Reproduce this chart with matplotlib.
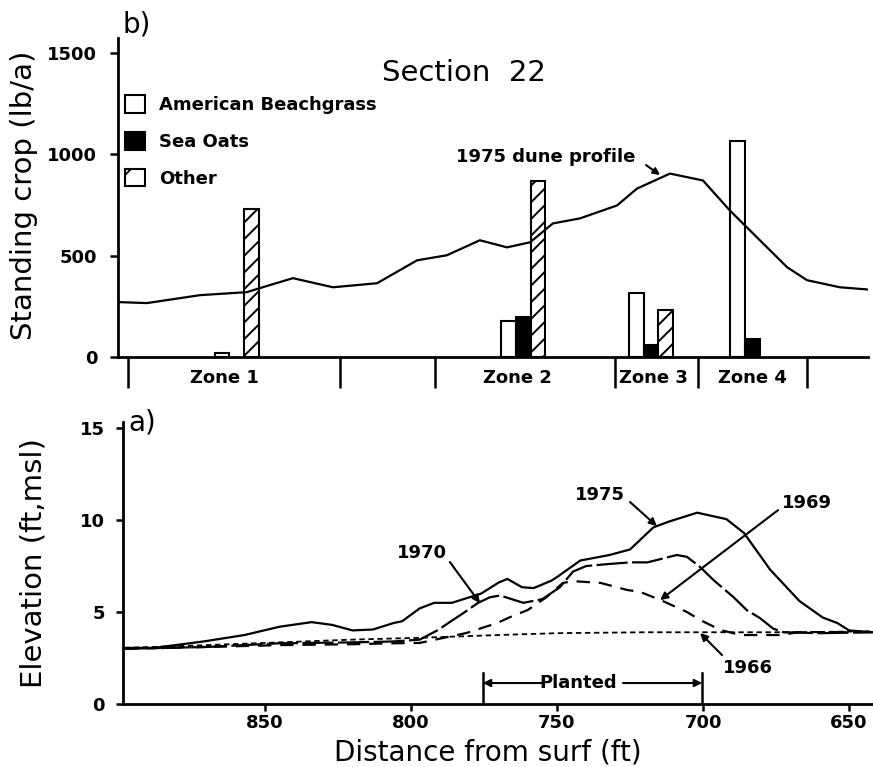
import matplotlib
matplotlib.use("Agg")
import matplotlib.pyplot as plt
import matplotlib.transforms as mtransforms
from matplotlib.patches import Patch
import numpy as np

# ---- data ----
# b) standing crop by zone (lb/a)
zone_names = ["Zone 1", "Zone 2", "Zone 3", "Zone 4"]
zone_centers = [859.6, 761.6, 717.8, 683.2]          # ft from surf
zone_label_x = [864.0, 763.7, 717.1, 682.9]
zone_bounds = [896.9, 824.3, 791.8, 730.1, 701.7, 664.4]
beachgrass = [20, 180, 315, 1065]
sea_oats = [0, 195, 60, 90]
other = [730, 870, 230, 0]

# 1975 dune profile drawn over panel b (scaled)
prof_dist = [900.3, 890.4, 872.3, 856.2, 851.7, 840.4, 826.7, 811.6, 797.9, 787.7,
             776.4, 767.1, 759.2, 751.4, 742.1, 729.4, 722.6, 711.3, 700.0, 690.8,
             682.9, 671.2, 664.4, 653.1, 643.5]
prof_val = [271, 266, 305, 320, 340, 389, 344, 364, 477, 502,
            576, 541, 566, 659, 684, 748, 831, 905, 871, 723,
            610, 443, 379, 344, 333]

# a) elevation profiles (ft, msl)
d1975 = [898, 888, 871, 857, 845, 834, 827, 820, 813, 806, 803, 797, 792, 786, 776,
         770, 767, 762, 758, 752, 750, 742, 732, 725, 717, 712, 702, 692, 686, 677,
         667, 659, 654, 650, 642]
e1975 = [3.05, 3.05, 3.4, 3.75, 4.2, 4.45, 4.3, 4.0, 4.05, 4.4, 4.5, 5.2, 5.5, 5.5, 6.0,
         6.6, 6.8, 6.35, 6.3, 6.7, 6.9, 7.8, 8.1, 8.4, 9.6, 9.9, 10.4, 10.05, 9.3, 7.3,
         5.6, 4.7, 4.4, 4.0, 3.9]
d1970 = [898, 870, 845, 820, 806, 797, 791, 782, 777, 773, 769.5, 761.5, 755, 749, 744.5,
         740, 733, 725, 719, 709, 705.5, 701, 696.5, 689.5, 685, 680.5, 676, 672.5, 660, 642]
e1970 = [3.0, 3.1, 3.3, 3.35, 3.4, 3.5, 4.0, 4.95, 5.5, 5.8, 5.9, 5.5, 5.7, 6.35, 7.2,
         7.5, 7.6, 7.7, 7.7, 8.1, 8.0, 7.45, 6.75, 5.8, 5.1, 4.67, 4.1, 3.9, 3.85, 3.9]
d1969 = [898, 870, 845, 820, 806, 797, 781, 770.5, 766, 760, 753.5, 748, 744.5, 735,
         726, 721.5, 714.5, 705.5, 701, 694, 687, 673.5, 667, 642]
e1969 = [3.0, 3.1, 3.2, 3.25, 3.3, 3.32, 3.86, 4.4, 4.73, 5.11, 5.82, 6.58, 6.68, 6.58,
         6.2, 6.09, 5.65, 5.0, 4.57, 4.02, 3.75, 3.75, 3.91, 3.91]
d1966 = [898, 870, 845, 820, 797, 770, 750, 720, 700, 670, 642]
e1966 = [3.05, 3.2, 3.35, 3.5, 3.6, 3.75, 3.85, 3.9, 3.9, 3.9, 3.95]

planted_start, planted_end = 775.4, 700.3

bold = dict(fontweight="bold", fontsize=13)
plt.rcParams["hatch.linewidth"] = 1.4

fig = plt.figure(figsize=(8.73, 7.67), dpi=100)
ax_b = fig.add_axes([118/873, 1-357/767, 750/873, 319/767])
ax_a = fig.add_axes([123/873, 1-704/767, 750/873, 282/767])

# ---- panel b ----
# x axis runs right-to-left, so the first bar of a group sits at the larger distance
w = 5.1
for vals, off, fc, hatch in [(beachgrass, w, "white", None),
                             (sea_oats, 0, "black", None),
                             (other, -w, "white", "//")]:
    for c, v in zip(zone_centers, vals):
        if v > 0:
            ax_b.bar(c + off, v, width=w, facecolor=fc, edgecolor="k",
                     linewidth=1.5, hatch=hatch, zorder=3)
ax_b.plot(prof_dist, prof_val, color="k", lw=1.6, zorder=4)

ax_b.set_xlim(900.3, 643.5)
ax_b.set_ylim(0, 1574)
ax_b.set_yticks([0, 500, 1000, 1500])
ax_b.set_xticks(zone_bounds)
ax_b.set_xticklabels([])
ax_b.tick_params(axis="x", direction="out", length=22, width=1.8)
ax_b.tick_params(axis="y", direction="out", length=6, width=1.8, pad=9, labelsize=13)
for s in ["top", "right"]:
    ax_b.spines[s].set_visible(False)
for s in ["left", "bottom"]:
    ax_b.spines[s].set_linewidth(2)
trans_b = mtransforms.blended_transform_factory(ax_b.transData, ax_b.transAxes)
for x, name in zip(zone_label_x, zone_names):
    ax_b.text(x, -0.066, name, transform=trans_b, ha="center", va="center", **bold)

ax_b.set_ylabel("Standing crop (lb/a)", fontsize=21)
ax_b.yaxis.set_label_coords(-0.107, 0.508)
ax_b.text(781.8, 1401, "Section  22", ha="center", va="center", fontsize=21)
ax_b.text(753.8, 987, "1975 dune profile", ha="center", va="center", **bold)
ax_b.annotate("", xy=(714.7, 898), xytext=(719.5, 947),
              arrowprops=dict(arrowstyle="-|>", color="k", lw=1.5,
                              mutation_scale=10, shrinkA=0, shrinkB=0))

handles = [Patch(facecolor="white", edgecolor="k", lw=1.5, label="American Beachgrass"),
           Patch(facecolor="black", edgecolor="k", lw=1.5, label="Sea Oats"),
           Patch(facecolor="white", edgecolor="k", lw=1.5, hatch="/", label="Other")]
leg = ax_b.legend(handles=handles, loc="upper left", bbox_to_anchor=(0.009, 0.82),
                  frameon=False, borderpad=0, borderaxespad=0, handlelength=1.1,
                  handleheight=1.1, handletextpad=0.8, labelspacing=1.0,
                  prop=dict(weight="bold", size=13))
fig.text(137/873, 1-25/767, "b)", ha="center", va="center", fontsize=20)

# ---- panel a ----
ax_a.plot(d1975, e1975, color="k", lw=1.6)
ax_a.plot(d1970, e1970, color="k", lw=1.6, dashes=(14, 2))
ax_a.plot(d1969, e1969, color="k", lw=1.6, dashes=(6, 4))
ax_a.plot(d1966, e1966, color="k", lw=1.3, dashes=(3, 2))

ax_a.set_xlim(898.6, 641.8)
ax_a.set_ylim(0, 15.33)
ax_a.set_xticks([850, 800, 750, 700, 650])
ax_a.set_yticks([0, 5, 10, 15])
ax_a.tick_params(direction="out", length=5, width=1.8, labelsize=13)
ax_a.tick_params(axis="y", pad=8)
ax_a.tick_params(axis="x", pad=2)
for s in ["top", "right"]:
    ax_a.spines[s].set_visible(False)
for s in ["left", "bottom"]:
    ax_a.spines[s].set_linewidth(2)
ax_a.set_ylabel("Elevation (ft,msl)", fontsize=21)
ax_a.yaxis.set_label_coords(-0.101, 0.5)
ax_a.set_xlabel("Distance from surf (ft)", fontsize=20)
ax_a.xaxis.set_label_coords(0.486, -0.122)
fig.text(142/873, 1-422/767, "a)", ha="center", va="center", fontsize=20)

arrow = dict(arrowstyle="-|>", color="k", lw=1.5, mutation_scale=11, shrinkA=0, shrinkB=0)
labels_a = [("1975", (735.3, 11.36), (725.0, 10.98), (715.8, 9.67)),
            ("1970", (796.2, 8.2), (786.7, 7.72), (776.4, 5.49)),
            ("1969", (664.4, 10.92), (674.3, 10.54), (714.7, 5.65)),
            ("1966", (684.6, 1.96), (693.5, 2.66), (701.0, 3.86))]
for txt, tpos, tail, head in labels_a:
    ax_a.text(tpos[0], tpos[1], txt, ha="center", va="center", **bold)
    ax_a.annotate("", xy=head, xytext=tail, arrowprops=arrow)

# planted bracket
yb = 1.14
ax_a.plot([planted_start, planted_start], [0, 1.68], color="k", lw=1.8)
ax_a.plot([planted_end, planted_end], [0, 1.68], color="k", lw=1.8)
ax_a.text(742.8, yb, "Planted", ha="center", va="center", **bold)
ax_a.annotate("", xy=(planted_start, yb), xytext=(755.1, yb), arrowprops=arrow)
ax_a.annotate("", xy=(planted_end, yb), xytext=(727.4, yb), arrowprops=arrow)

for ax in (ax_a, ax_b):
    plt.setp(ax.get_xticklabels() + ax.get_yticklabels(), fontweight="bold")

fig.savefig("out.png", dpi=100)
